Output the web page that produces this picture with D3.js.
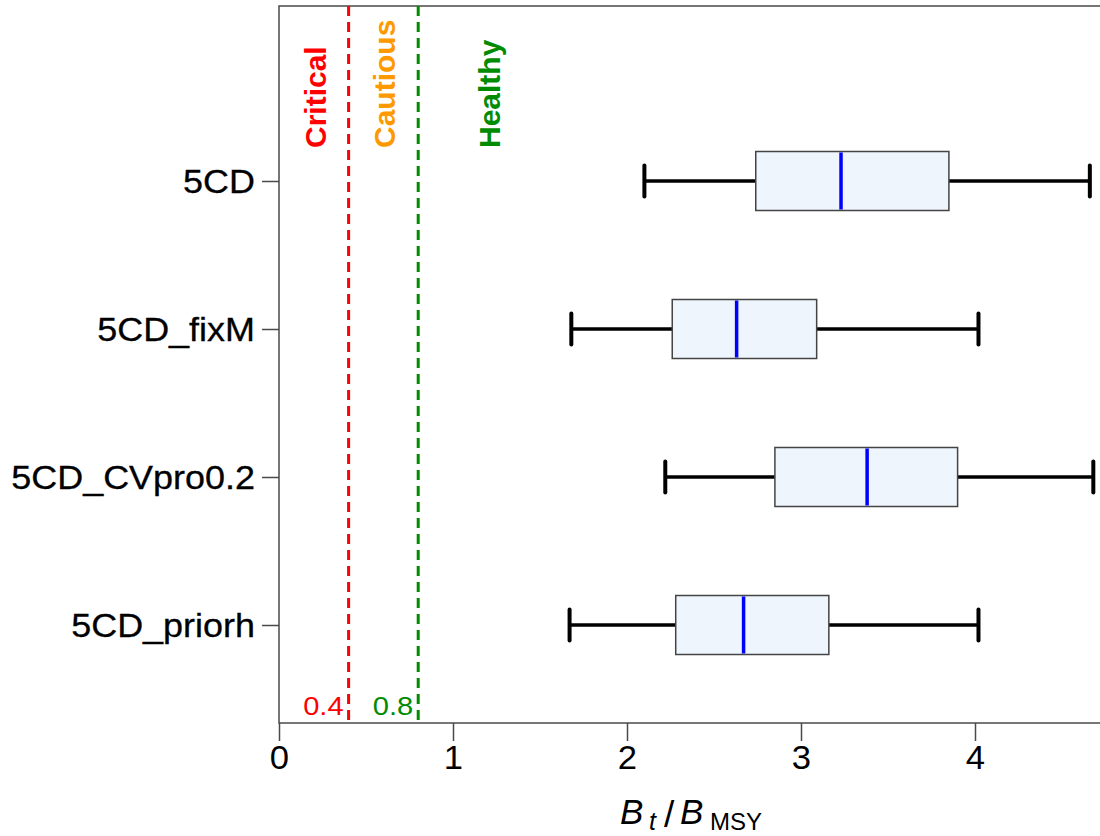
<!DOCTYPE html>
<html>
<head>
<meta charset="utf-8">
<script src="https://cdn.jsdelivr.net/npm/d3@7"></script>
<style>
  html, body { margin: 0; padding: 0; background: #fff; }
  svg { display: block; font-family: "Liberation Sans", Arial, sans-serif; }
</style>
</head>
<body>
<svg id="chart" width="1100" height="836"></svg>
<script>
// ---- data ----
const categories = ["5CD", "5CD_fixM", "5CD_CVpro0.2", "5CD_priorh"];
const whiskerLow  = [2.10, 1.68, 2.22, 1.67];
const q1          = [2.74, 2.26, 2.85, 2.28];
const medians     = [3.23, 2.63, 3.38, 2.67];
const q3          = [3.85, 3.09, 3.90, 3.16];
const whiskerHigh = [4.66, 4.02, 4.68, 4.02];
const xTicks = [0, 1, 2, 3, 4];
const refValues = [0.4, 0.8];
const refLabels = ["0.4", "0.8"];
const refColors = ["#FF0000", "#008B00"];
const zoneLabels = ["Critical", "Cautious", "Healthy"];
const zoneColors = ["#FF0000", "#FF9900", "#008B00"];
const zoneValues = [0.2, 0.6, 1.2];

const boxes = categories.map((c, i) => ({
  cat: c, lo: whiskerLow[i], q1: q1[i], med: medians[i], q3: q3[i], hi: whiskerHigh[i]
}));

// ---- layout ----
const svg = d3.select("#chart");
const pLeft = 279, pTop = 6, pBottom = 723, pRight = 1100 + 40;
const x = d3.scaleLinear().domain([0, 4.73]).range([pLeft, pLeft + 4.73 * 174]);
const y = d3.scalePoint().domain(categories).range([181, 625]);
const boxH = 59, capH = 31;

// frame
svg.append("rect")
  .attr("x", pLeft).attr("y", pTop)
  .attr("width", pRight - pLeft).attr("height", pBottom - pTop)
  .attr("fill", "none").attr("stroke", "#4a4a4a").attr("stroke-width", 1.5);

// x axis
const xAxis = d3.axisBottom(x).tickValues(xTicks).tickFormat(d3.format("d"))
  .tickSize(18).tickPadding(5);
const gx = svg.append("g").attr("transform", `translate(0,${pBottom})`).call(xAxis);
gx.select(".domain").remove();
gx.selectAll(".tick line").attr("stroke", "#4a4a4a").attr("stroke-width", 1.5);
gx.selectAll(".tick text").attr("font-size", 33).attr("fill", "#000")
  .attr("font-family", "Liberation Sans, Arial, sans-serif")
  .attr("transform", "scale(1.05,1)");

// y axis
const yAxis = d3.axisLeft(y).tickSize(17).tickPadding(7);
const gy = svg.append("g").attr("transform", `translate(${pLeft},0)`).call(yAxis);
gy.select(".domain").remove();
gy.selectAll(".tick line").attr("stroke", "#4a4a4a").attr("stroke-width", 1.5);
const sx = 1.09;
gy.selectAll(".tick text").attr("font-size", 33).attr("fill", "#000")
  .attr("font-family", "Liberation Sans, Arial, sans-serif")
  .attr("x", -24 / sx)
  .attr("transform", `scale(${sx},1)`)
  .attr("stroke", "#000").attr("stroke-width", 0.3)
  .attr("dy", "0.36em");

// reference dashed lines
refValues.forEach((v, i) => {
  svg.append("line")
    .attr("x1", x(v)).attr("x2", x(v))
    .attr("y1", pTop).attr("y2", pBottom)
    .attr("stroke", refColors[i]).attr("stroke-width", 3)
    .attr("stroke-dasharray", "10,6");
  svg.append("text")
    .attr("transform", `translate(${x(v) - 5},${pBottom - 8}) scale(1.12,1)`)
    .attr("text-anchor", "end")
    .attr("font-size", 26)
    .attr("fill", refColors[i])
    .text(refLabels[i]);
});

// zone labels (rotated)
zoneLabels.forEach((t, i) => {
  const xx = x(zoneValues[i]) + 12;
  svg.append("text")
    .attr("transform", `translate(${xx},148) rotate(-90)`)
    .attr("text-anchor", "start")
    .attr("font-size", 30).attr("font-weight", "bold")
    .attr("fill", zoneColors[i])
    .text(t);
});

// boxplots
const g = svg.append("g");
boxes.forEach(b => {
  const cy = y(b.cat);
  g.append("line").attr("x1", x(b.lo)).attr("x2", x(b.q1)).attr("y1", cy).attr("y2", cy)
    .attr("stroke", "#000").attr("stroke-width", 3.5);
  g.append("line").attr("x1", x(b.q3)).attr("x2", x(b.hi)).attr("y1", cy).attr("y2", cy)
    .attr("stroke", "#000").attr("stroke-width", 3.5);
  [b.lo, b.hi].forEach(v => {
    g.append("line").attr("x1", x(v)).attr("x2", x(v))
      .attr("y1", cy - capH / 2).attr("y2", cy + capH / 2)
      .attr("stroke", "#000").attr("stroke-width", 4).attr("stroke-linecap", "round");
  });
  g.append("rect")
    .attr("x", x(b.q1)).attr("y", cy - boxH / 2)
    .attr("width", x(b.q3) - x(b.q1)).attr("height", boxH)
    .attr("fill", "#EEF5FD").attr("stroke", "#444").attr("stroke-width", 1.5);
  g.append("line").attr("x1", x(b.med)).attr("x2", x(b.med))
    .attr("y1", cy - boxH / 2 + 1).attr("y2", cy + boxH / 2 - 1)
    .attr("stroke", "#0000FF").attr("stroke-width", 3.5);
});

// x axis label: B_t / B_MSY
const lab = svg.append("g").attr("fill", "#000");
lab.append("text").attr("x", 620).attr("y", 824).attr("font-size", 35)
  .attr("font-style", "italic").text("B");
lab.append("text").attr("x", 649).attr("y", 830).attr("font-size", 25)
  .attr("font-style", "italic").text("t");
lab.append("text").attr("x", 664).attr("y", 827).attr("font-size", 37)
  .text("/");
lab.append("text").attr("x", 680).attr("y", 824).attr("font-size", 35)
  .attr("font-style", "italic").text("B");
lab.append("text").attr("x", 710).attr("y", 830).attr("font-size", 24)
  .text("MSY");
</script>
</body>
</html>
